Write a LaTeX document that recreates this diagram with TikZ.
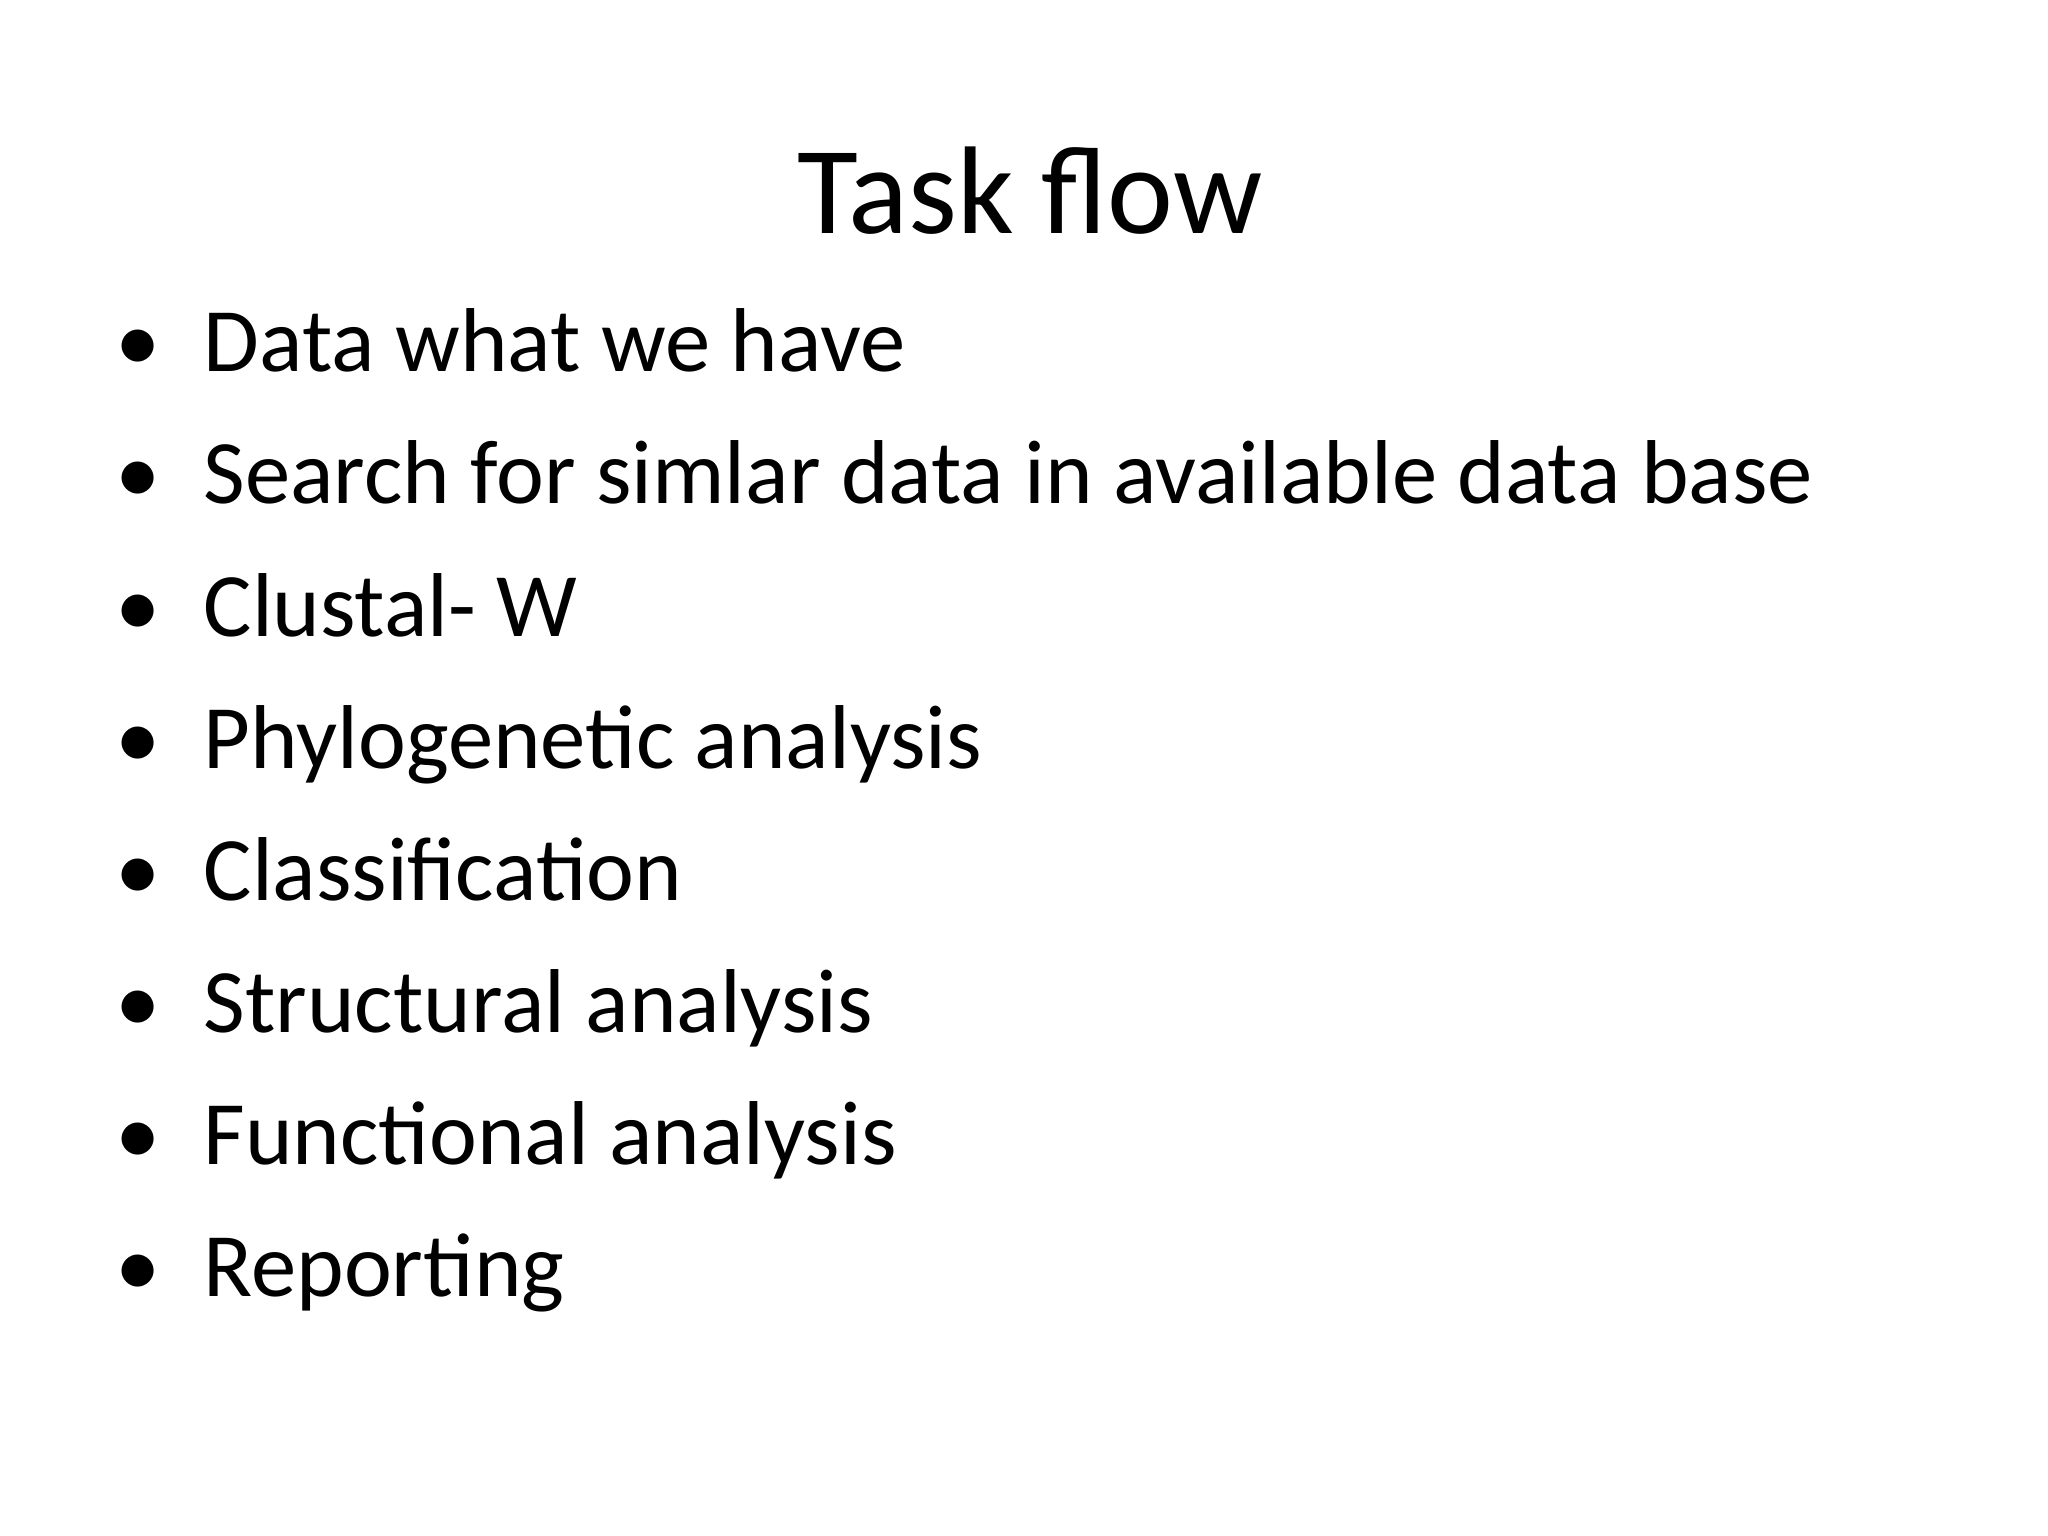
\documentclass[tikz,border=0pt]{standalone}
\usepackage{fontspec}
\setmainfont{Carlito}
\begin{document}
\begin{tikzpicture}[
  item/.style={anchor=base west,inner sep=0pt,font=\fontsize{25.8}{30}\selectfont},
  bul/.style={anchor=base,inner sep=0pt,font=\fontsize{25.8}{30}\selectfont}]
\useasboundingbox[fill=white] (0,0) rectangle (20.48,-15.36);
\node[anchor=base,inner sep=0pt,font=\fontsize{35.5}{40}\selectfont] (title) at (10.3,-2.34) {Task flow};
\foreach \t [count=\i] in {Data what we have,Search for simlar data in available data base,Clustal- W,Phylogenetic analysis,Classification,Structural analysis,Functional analysis,Reporting}{
  \node[bul] (b\i) at (1.38,{-3.72-1.32*(\i-1)}) {•};
  \node[item] (t\i) at (2.03,{-3.72-1.32*(\i-1)}) {\t};
}
\end{tikzpicture}
\end{document}
